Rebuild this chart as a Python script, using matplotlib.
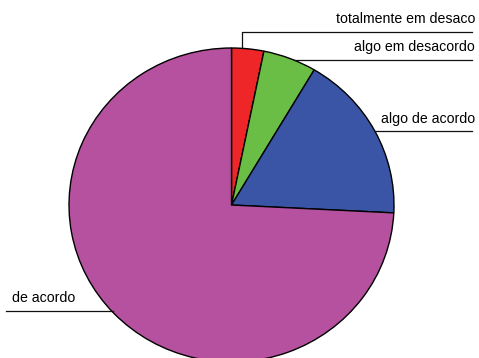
import matplotlib
matplotlib.use("Agg")
import matplotlib.pyplot as plt
from matplotlib.lines import Line2D

labels = ["totalmente em desaco", "algo em desacordo", "algo de acordo", "de acordo"]
values = [3.2, 5.3, 17.3, 74.2]
colors = ["#EE2628", "#6BBE45", "#3A55A5", "#B5519E"]

W, H = 479, 358
fig = plt.figure(figsize=(W / 100, H / 100), dpi=100)
ax = fig.add_axes([0, 0, 1, 1])

cx, cy, rx, ry = 231.5, 205.0, 162.5, 157.0
ax.pie(values, colors=colors, startangle=90, counterclock=False,
       wedgeprops=dict(edgecolor="black", linewidth=1.0))
ax.set_aspect("auto")
ax.set_xlim(-cx / rx, (W - cx) / rx)
ax.set_ylim(-(H - cy) / ry, cy / ry)
ax.axis("off")


def P(x, y):
    return x / W, 1 - y / H


def line(pts):
    xs = [P(x, y)[0] for x, y in pts]
    ys = [P(x, y)[1] for x, y in pts]
    fig.add_artist(Line2D(xs, ys, transform=fig.transFigure, color="#111111", lw=0.9))


font = dict(family="Liberation Sans", fontsize=10.2, color="black")

line([(242, 48), (242, 32), (472, 32)])
fig.text(*P(475, 23), labels[0], ha="right", va="baseline", **font)

line([(294, 60), (472, 60)])
fig.text(*P(475, 51), labels[1], ha="right", va="baseline", **font)

line([(375, 131), (472, 131)])
fig.text(*P(475, 123), labels[2], ha="right", va="baseline", **font)

line([(6, 311), (113, 311)])
fig.text(*P(12, 302), labels[3], ha="left", va="baseline", **font)

fig.savefig("out.png", dpi=100)
